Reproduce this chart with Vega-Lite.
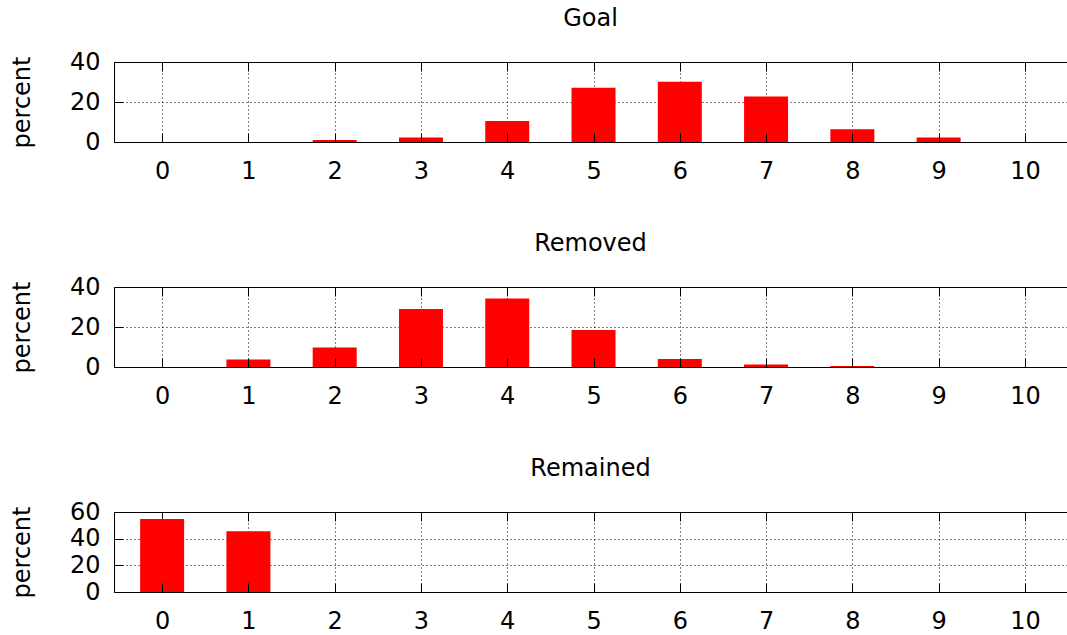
{
  "$schema": "https://vega.github.io/schema/vega-lite/v6.json",
  "padding": {"left": 10, "top": 7, "right": 0, "bottom": 0},
  "background": "white",
  "spacing": 49,
  "config": {
    "font": "DejaVu Sans",
    "view": {"stroke": null},
    "axis": {"domainColor": "#000", "tickColor": "#000", "labelColor": "#000", "titleColor": "#000", "labelFontSize": 24, "titleFontSize": 24, "titleFontWeight": "normal", "labelFont": "DejaVu Sans", "titleFont": "DejaVu Sans"},
    "title": {"fontSize": 24, "fontWeight": "normal", "font": "DejaVu Sans", "color": "#000", "frame": "group", "anchor": "middle", "offset": 19}
  },
  "datasets": {
    "goal": [
      {"x": 0, "pct": 0}, {"x": 1, "pct": 0}, {"x": 2, "pct": 1.0}, {"x": 3, "pct": 2.2}, {"x": 4, "pct": 10.5}, {"x": 5, "pct": 27.1},
      {"x": 6, "pct": 30.1}, {"x": 7, "pct": 22.8}, {"x": 8, "pct": 6.4}, {"x": 9, "pct": 2.2}, {"x": 10, "pct": 0}
    ],
    "removed": [
      {"x": 0, "pct": 0}, {"x": 1, "pct": 3.8}, {"x": 2, "pct": 9.8}, {"x": 3, "pct": 29.0}, {"x": 4, "pct": 34.3}, {"x": 5, "pct": 18.5},
      {"x": 6, "pct": 4.0}, {"x": 7, "pct": 1.3}, {"x": 8, "pct": 0.5}, {"x": 9, "pct": 0}, {"x": 10, "pct": 0}
    ],
    "remained": [
      {"x": 0, "pct": 54.8}, {"x": 1, "pct": 45.5}, {"x": 2, "pct": 0}, {"x": 3, "pct": 0}, {"x": 4, "pct": 0}, {"x": 5, "pct": 0},
      {"x": 6, "pct": 0}, {"x": 7, "pct": 0}, {"x": 8, "pct": 0}, {"x": 9, "pct": 0}, {"x": 10, "pct": 0}
    ]
  },
  "vconcat": [
    {
      "title": {"text": "Goal"},
      "width": 953, "height": 80,
      "data": {"name": "goal"},
      "layer": [
        {"mark": {"type": "bar", "size": 44, "color": "#ff0000"},
         "encoding": {
           "x": {"field": "x", "type": "quantitative", "scale": {"domain": [-0.5, 10.43], "nice": false, "zero": false},
                 "axis": {"orient": "bottom", "values": [0,1,2,3,4,5,6,7,8,9,10], "title": null, "grid": false, "tickSize": -9, "labelPadding": 26, "zindex": 1}},
           "y": {"field": "pct", "type": "quantitative", "scale": {"domain": [0, 40], "nice": false},
                 "axis": {"orient": "left", "values": [0, 20, 40], "title": "percent", "grid": false, "tickSize": -9, "labelPadding": 23, "titlePadding": 35, "zindex": 1}}
         }},
        {"mark": {"type": "bar", "size": 44, "opacity": 0},
         "encoding": {
           "x": {"field": "x", "type": "quantitative", "scale": {"domain": [-0.5, 10.43], "nice": false, "zero": false},
                 "axis": {"orient": "top", "values": [0,1,2,3,4,5,6,7,8,9,10], "title": null, "labels": false, "grid": true, "gridColor": "#000", "gridDash": [1, 3], "gridOpacity": 1, "tickSize": -9, "zindex": 0}},
           "y": {"field": "pct", "type": "quantitative", "scale": {"domain": [0, 40], "nice": false},
                 "axis": {"orient": "right", "values": [0, 20, 40], "title": null, "labels": false, "ticks": false, "domain": false, "grid": true, "gridColor": "#000", "gridDash": [1, 3], "gridOpacity": 1, "zindex": 0}}
         }}
      ],
      "resolve": {"axis": {"x": "independent", "y": "independent"}}
    },
    {
      "title": {"text": "Removed"},
      "width": 953, "height": 80,
      "data": {"name": "removed"},
      "layer": [
        {"mark": {"type": "bar", "size": 44, "color": "#ff0000"},
         "encoding": {
           "x": {"field": "x", "type": "quantitative", "scale": {"domain": [-0.5, 10.43], "nice": false, "zero": false},
                 "axis": {"orient": "bottom", "values": [0,1,2,3,4,5,6,7,8,9,10], "title": null, "grid": false, "tickSize": -9, "labelPadding": 26, "zindex": 1}},
           "y": {"field": "pct", "type": "quantitative", "scale": {"domain": [0, 40], "nice": false},
                 "axis": {"orient": "left", "values": [0, 20, 40], "title": "percent", "grid": false, "tickSize": -9, "labelPadding": 23, "titlePadding": 35, "zindex": 1}}
         }},
        {"mark": {"type": "bar", "size": 44, "opacity": 0},
         "encoding": {
           "x": {"field": "x", "type": "quantitative", "scale": {"domain": [-0.5, 10.43], "nice": false, "zero": false},
                 "axis": {"orient": "top", "values": [0,1,2,3,4,5,6,7,8,9,10], "title": null, "labels": false, "grid": true, "gridColor": "#000", "gridDash": [1, 3], "gridOpacity": 1, "tickSize": -9, "zindex": 0}},
           "y": {"field": "pct", "type": "quantitative", "scale": {"domain": [0, 40], "nice": false},
                 "axis": {"orient": "right", "values": [0, 20, 40], "title": null, "labels": false, "ticks": false, "domain": false, "grid": true, "gridColor": "#000", "gridDash": [1, 3], "gridOpacity": 1, "zindex": 0}}
         }}
      ],
      "resolve": {"axis": {"x": "independent", "y": "independent"}}
    },
    {
      "title": {"text": "Remained"},
      "width": 953, "height": 80,
      "data": {"name": "remained"},
      "layer": [
        {"mark": {"type": "bar", "size": 44, "color": "#ff0000"},
         "encoding": {
           "x": {"field": "x", "type": "quantitative", "scale": {"domain": [-0.5, 10.43], "nice": false, "zero": false},
                 "axis": {"orient": "bottom", "values": [0,1,2,3,4,5,6,7,8,9,10], "title": null, "grid": false, "tickSize": -9, "labelPadding": 26, "zindex": 1}},
           "y": {"field": "pct", "type": "quantitative", "scale": {"domain": [0, 60], "nice": false},
                 "axis": {"orient": "left", "values": [0, 20, 40, 60], "title": "percent", "grid": false, "tickSize": -9, "labelPadding": 23, "titlePadding": 35, "zindex": 1}}
         }},
        {"mark": {"type": "bar", "size": 44, "opacity": 0},
         "encoding": {
           "x": {"field": "x", "type": "quantitative", "scale": {"domain": [-0.5, 10.43], "nice": false, "zero": false},
                 "axis": {"orient": "top", "values": [0,1,2,3,4,5,6,7,8,9,10], "title": null, "labels": false, "grid": true, "gridColor": "#000", "gridDash": [1, 3], "gridOpacity": 1, "tickSize": -9, "zindex": 0}},
           "y": {"field": "pct", "type": "quantitative", "scale": {"domain": [0, 60], "nice": false},
                 "axis": {"orient": "right", "values": [0, 20, 40, 60], "title": null, "labels": false, "ticks": false, "domain": false, "grid": true, "gridColor": "#000", "gridDash": [1, 3], "gridOpacity": 1, "zindex": 0}}
         }}
      ],
      "resolve": {"axis": {"x": "independent", "y": "independent"}}
    }
  ]
}
